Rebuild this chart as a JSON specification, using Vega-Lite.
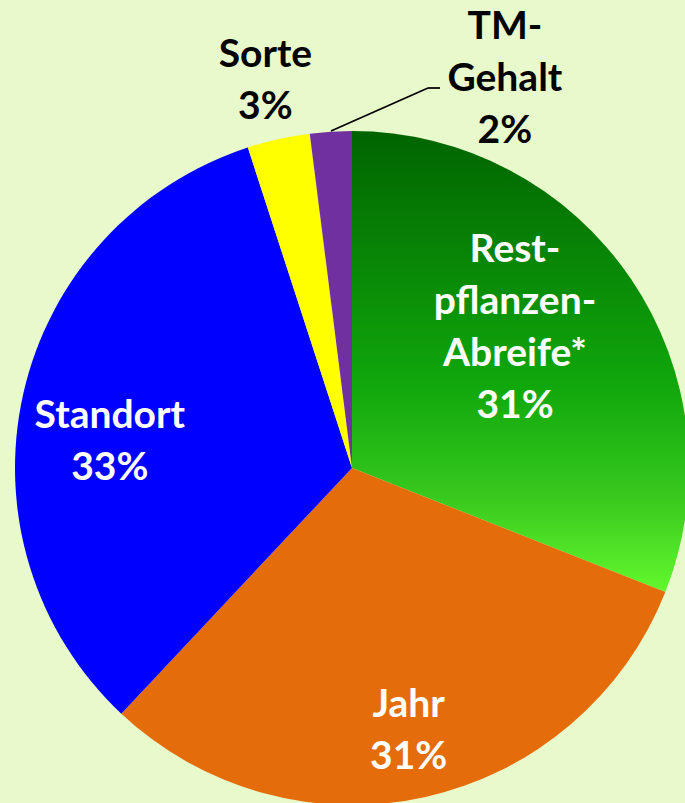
{
  "$schema": "https://vega.github.io/schema/vega-lite/v6.json",
  "width": 666,
  "height": 670,
  "autosize": {"type": "none"},
  "padding": {"left": 19, "top": 133, "right": 0, "bottom": 0},
  "background": "#e8f9cc",
  "config": {"view": {"stroke": null}},
  "data": {
    "values": [
      {"i": 1, "k": "Rest", "label": "Rest-\npflanzen-\nAbreife*\n31%", "v": 31},
      {"i": 2, "k": "Jahr", "label": "Jahr\n31%", "v": 31},
      {"i": 3, "k": "Standort", "label": "Standort\n33%", "v": 33},
      {"i": 4, "k": "Sorte", "label": "Sorte\n3%", "v": 3},
      {"i": 5, "k": "TM", "label": "TM-\nGehalt\n2%", "v": 2}
    ]
  },
  "layer": [
    {
      "mark": {"type": "arc", "radius": 337},
      "encoding": {
        "theta": {"field": "v", "type": "quantitative", "stack": true},
        "order": {"field": "i", "type": "quantitative"},
        "color": {
          "condition": {
            "test": "datum.k === 'Rest'",
            "value": {
              "gradient": "linear",
              "x1": 0, "y1": 0, "x2": 0, "y2": 1,
              "stops": [
                {"offset": 0, "color": "#006400"},
                {"offset": 0.55, "color": "#10a70c"},
                {"offset": 0.8, "color": "#38ca1e"},
                {"offset": 1, "color": "#62f82e"}
              ]
            }
          },
          "field": "k",
          "type": "nominal",
          "scale": {
            "domain": ["Rest", "Jahr", "Standort", "Sorte", "TM"],
            "range": ["#0a8a0a", "#e46c0a", "#0000ff", "#ffff00", "#7030a0"]
          },
          "legend": null
        }
      }
    },
    {
      "mark": {
        "type": "text",
        "font": "Lato",
        "fontWeight": "bold",
        "fontSize": 39,
        "lineHeight": 52,
        "lineBreak": "\n",
        "align": "center",
        "baseline": "middle",
        "radius": {"expr": "datum.k === 'Rest' ? 214 : datum.k === 'Jahr' ? 269 : datum.k === 'Standort' ? 242 : datum.k === 'Sorte' ? 397 : 384"},
        "dx": {"expr": "datum.k === 'Rest' ? -14 : datum.k === 'Jahr' ? -2 : datum.k === 'Standort' ? -6 : datum.k === 'Sorte' ? 0 : 177"},
        "dy": {"expr": "datum.k === 'Rest' ? -98 : datum.k === 'Jahr' ? -26 : datum.k === 'Standort' ? 1 : datum.k === 'Sorte' ? -26 : -58"}
      },
      "encoding": {
        "theta": {"field": "v", "type": "quantitative", "stack": true},
        "order": {"field": "i", "type": "quantitative"},
        "text": {"field": "label", "type": "nominal"},
        "color": {
          "condition": {"test": "datum.k === 'Sorte' || datum.k === 'TM'", "value": "#000000"},
          "value": "#ffffff"
        }
      }
    },
    {
      "data": {"values": [{}]},
      "mark": {"type": "rule", "color": "#000000", "strokeWidth": 1.75},
      "encoding": {
        "x": {"value": 312},
        "y": {"value": -2},
        "x2": {"value": 409},
        "y2": {"value": -45}
      }
    },
    {
      "data": {"values": [{}]},
      "mark": {"type": "rule", "color": "#000000", "strokeWidth": 1.75},
      "encoding": {
        "x": {"value": 409},
        "y": {"value": -45},
        "x2": {"value": 421},
        "y2": {"value": -45}
      }
    }
  ]
}
